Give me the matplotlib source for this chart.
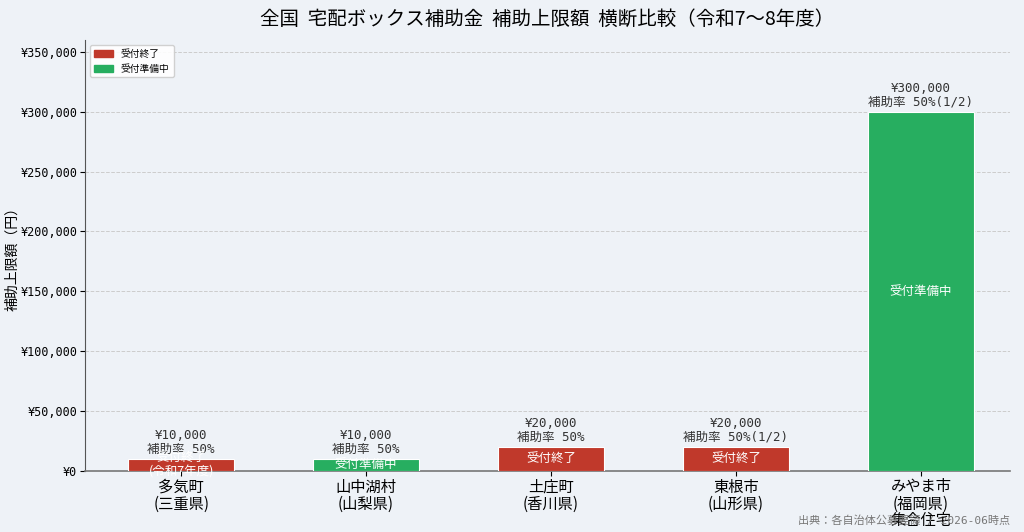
import matplotlib
matplotlib.use('Agg')
import matplotlib.pyplot as plt
import matplotlib.patches as mpatches
from matplotlib.ticker import FuncFormatter

# data
municipalities = ['多気町\n(三重県)', '山中湖村\n(山梨県)', '土庄町\n(香川県)', '東根市\n(山形県)', 'みやま市\n(福岡県)\n集合住宅']
limits = [10000, 10000, 20000, 20000, 300000]
rates = ['補助率 50%', '補助率 50%', '補助率 50%', '補助率 50%(1/2)', '補助率 50%(1/2)']
status = ['受付終了', '受付準備中', '受付終了', '受付終了', '受付準備中']
inner_labels = ['受付終了\n(令和7年度)', '受付準備中', '受付終了', '受付終了', '受付準備中']

status_colors = {'受付終了': '#c0392b', '受付準備中': '#27ae60'}
bg = '#eef2f7'
mono = ['DejaVu Sans Mono', 'Noto Sans CJK JP']
plt.rcParams['font.family'] = ['Noto Sans CJK JP', 'DejaVu Sans']

fig = plt.figure(figsize=(10.24, 5.32), dpi=100, facecolor=bg)
ax = fig.add_axes([0.083, 0.115, 0.903, 0.81], facecolor=bg)

x = list(range(len(municipalities)))
colors = [status_colors[s] for s in status]
bars = ax.bar(x, limits, width=0.57, color=colors, edgecolor='white', linewidth=0.8, zorder=3)

for i, b in enumerate(bars):
    h = b.get_height()
    # value + rate above the bar
    ax.text(b.get_x() + b.get_width() / 2, h + 2500, '¥{:,}\n{}'.format(limits[i], rates[i]),
            ha='center', va='bottom', fontsize=9, color='#333333', family=mono, linespacing=1.1)
    # status inside the bar
    ax.text(b.get_x() + b.get_width() / 2, h / 2, inner_labels[i],
            ha='center', va='center', fontsize=9, color='white', linespacing=1.1)

ax.set_xticks(x)
ax.set_xticklabels(municipalities, fontsize=11, linespacing=1.0)
ax.set_xlim(-0.52, 4.48)
ax.set_ylim(0, 360000)
ax.set_yticks(range(0, 350001, 50000))
ax.yaxis.set_major_formatter(FuncFormatter(lambda v, p: '¥{:,.0f}'.format(v)))
for lab in ax.get_yticklabels():
    lab.set_family(mono)
    lab.set_fontsize(8.5)
ax.tick_params(axis='y', pad=2)
ax.tick_params(axis='x', pad=2)
ax.set_ylabel('補助上限額（円）', fontsize=10)
ax.yaxis.set_label_coords(-0.071, 0.5)

ax.grid(axis='y', linestyle='--', color='#cccccc', linewidth=0.7, zorder=0)
ax.spines['top'].set_visible(False)
ax.spines['right'].set_visible(False)
ax.spines['left'].set_color('#555555')
ax.spines['bottom'].set_color('#777777')
ax.spines['bottom'].set_linewidth(1.2)

ax.set_title('全国  宅配ボックス補助金  補助上限額  横断比較（令和7〜8年度）', fontsize=14, pad=11)

handles = [mpatches.Patch(color=c, label=s) for s, c in status_colors.items()]
ax.legend(handles=handles, loc='upper left', fontsize=7, framealpha=0.9)

fig.text(0.986, 0.012, '出典：各自治体公募要領 / 2026-06時点', ha='right', va='bottom',
         fontsize=8, color='#777777', family=mono)

fig.savefig('out.png', dpi=100, facecolor=bg)
